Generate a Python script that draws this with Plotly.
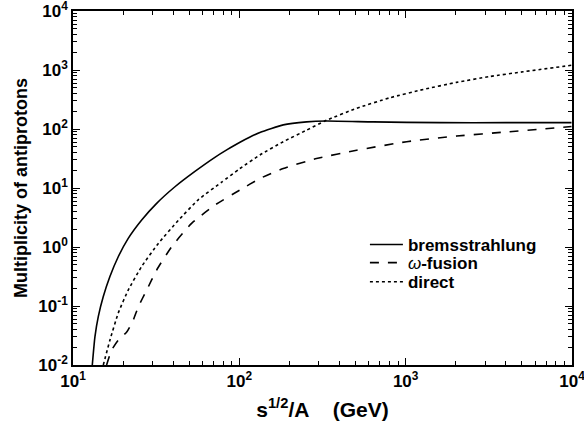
import plotly.graph_objects as go

# ---- data (x: sqrt(s)/A in GeV, y: multiplicity) ----
brems_x = [13.06, 13.55, 14.19, 15.21, 16.67, 18.71, 21.48, 25.88, 31.84, 41.02, 54.08, 71.29,
           83.95, 100.9, 133.0, 183.7, 253.5, 335.0, 638.0, 1607, 4036, 9931]
brems_y = [0.01, 0.0302, 0.0661, 0.1445, 0.316, 0.684, 1.40, 2.87, 5.50, 10.5, 19.1, 33.1,
           44.2, 59.6, 87.1, 117.5, 131.8, 136.5, 131.8, 128, 128, 128]

fusion_x = [15.92, 17.06, 18.71, 21.04, 23.01, 24.72, 27.73, 31.84, 39.17, 51.64, 71.29, 100.9,
            133.0, 183.7, 291.0, 507.0, 1014, 2023, 4036, 9931]
fusion_y = [0.01, 0.0178, 0.0263, 0.0363, 0.0575, 0.0977, 0.186, 0.407, 1.01, 2.51, 5.13, 9.25,
            14.5, 21.4, 31.6, 43.6, 61.0, 75.9, 89.1, 110]

direct_x = [15.21, 16.67, 18.71, 21.48, 25.88, 32.58, 42.95, 56.62, 78.34, 100.9, 133.0, 183.7,
            253.5, 335.0, 507.0, 804.0, 1276, 2023, 3206, 5082, 9931]
direct_y = [0.01, 0.0263, 0.0759, 0.186, 0.468, 1.148, 2.82, 6.31, 12.6, 21.4, 36.3, 61.0,
            95.5, 141, 224, 339, 468, 617, 776, 933, 1202]

x_tickvals = [10, 100, 1000, 10000]
x_ticktext = ["10<sup>1</sup>", "10<sup>2</sup>", "10<sup>3</sup>", "10<sup>4</sup>"]
y_tickvals = [0.01, 0.1, 1, 10, 100, 1000, 10000]
y_ticktext = ["10<sup>-2</sup>", "10<sup>-1</sup>", "10<sup>0</sup>", "10<sup>1</sup>",
              "10<sup>2</sup>", "10<sup>3</sup>", "10<sup>4</sup>"]

x_minor = [k * 10 ** e for e in range(1, 4) for k in range(2, 10)]
y_minor = [k * 10.0 ** e for e in range(-2, 4) for k in range(2, 10)]

FONT = "Liberation Sans"
LINE = dict(color="black", width=1.6, shape="spline", smoothing=0.5)

fig = go.Figure()
fig.add_trace(go.Scatter(x=brems_x, y=brems_y, mode="lines", name="bremsstrahlung",
                         line=dict(LINE), legend="legend"))
fig.add_trace(go.Scatter(x=fusion_x, y=fusion_y, mode="lines",
                         name="<span style='font-weight:normal'><i>ω</i></span>-fusion",
                         line=dict(LINE, dash="dash"), legend="legend2"))
fig.add_trace(go.Scatter(x=direct_x, y=direct_y, mode="lines", name="direct",
                         line=dict(LINE, dash="dot"), legend="legend3"))

axis_common = dict(
    type="log", showline=True, linecolor="black", linewidth=1.5, mirror="ticks",
    ticks="inside", ticklen=7, tickwidth=1.2, tickcolor="black", showgrid=False, zeroline=False,
    automargin=False, ticklabeloverflow="allow",
    tickfont=dict(family=FONT, size=17, color="black", weight="bold"),
)

fig.update_xaxes(**axis_common, range=[1, 4], tickvals=x_tickvals, ticktext=x_ticktext,
                 minor=dict(tickvals=x_minor, ticks="inside", ticklen=4, tickcolor="black",
                            tickwidth=1, showgrid=False),
                 title=dict(text="s<sup>1/2</sup>/A&nbsp;&nbsp;&nbsp;&nbsp;(GeV)", standoff=12,
                            font=dict(family=FONT, size=21, color="black", weight="bold")))
fig.update_yaxes(**axis_common, range=[-2, 4], tickvals=y_tickvals, ticktext=y_ticktext,
                 minor=dict(tickvals=y_minor, ticks="inside", ticklen=4, tickcolor="black",
                            tickwidth=1, showgrid=False),
                 title=dict(text="Multiplicity of antiprotons", standoff=6,
                            font=dict(family=FONT, size=18, color="black", weight="bold")))

leg_common = dict(x=0.585, xanchor="left", yanchor="middle", bgcolor="rgba(0,0,0,0)",
                  font=dict(family=FONT, size=17, color="black", weight="bold"),
                  itemwidth=33, borderwidth=0)

fig.update_layout(
    width=584, height=433,
    margin=dict(l=73, r=12, t=11, b=68),
    paper_bgcolor="white", plot_bgcolor="white",
    legend=dict(leg_common, y=0.339),
    legend2=dict(leg_common, y=0.288),
    legend3=dict(leg_common, y=0.234),
    showlegend=True,
)

fig.write_html("out.html")
